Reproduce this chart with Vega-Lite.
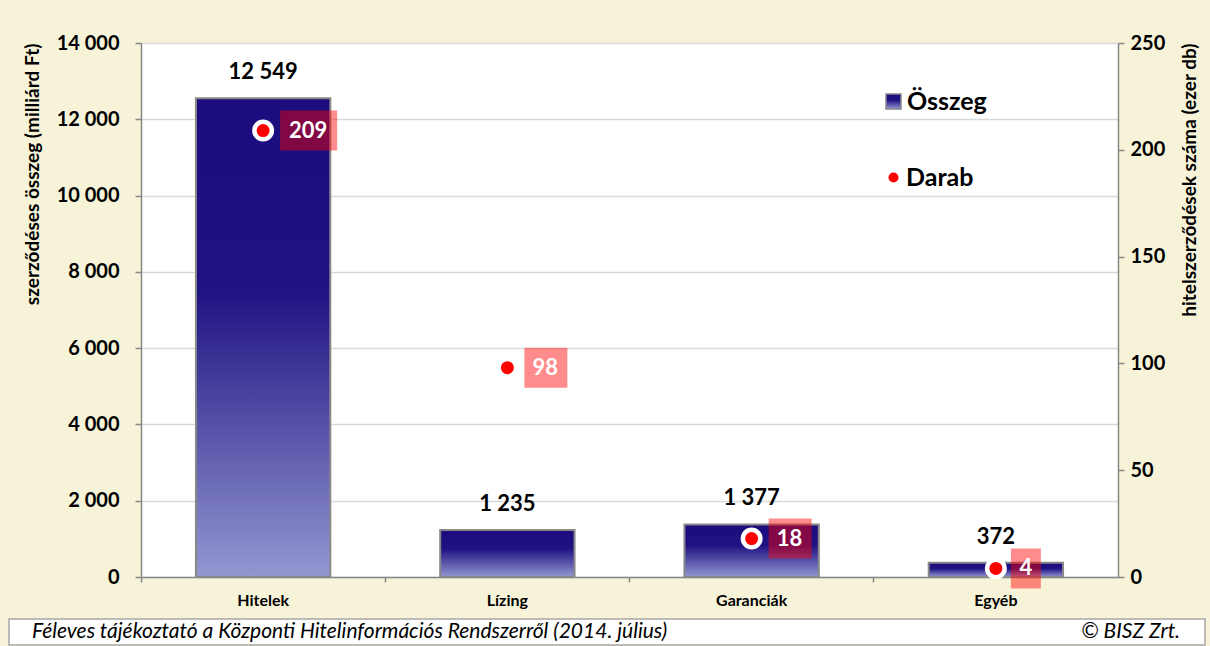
{
  "$schema": "https://vega.github.io/schema/vega-lite/v6.json",
  "background": "#F7F3D9",
  "padding": {"left": 8, "top": 33, "right": 5, "bottom": 0},
  "spacing": 10,
  "config": {
    "locale": {"number": {"decimal": ",", "thousands": " ", "grouping": [3], "currency": ["", " Ft"]}},
    "font": "Lato",
    "axis": {"labelFont": "Lato", "titleFont": "Lato", "labelColor": "#000000", "titleColor": "#000000", "domainColor": "#868686", "tickColor": "#868686", "domainWidth": 1.5, "tickWidth": 1.5},
    "legend": {"padding": 0, "labelFont": "Lato", "labelFontSize": 25, "labelFontWeight": "bold", "labelColor": "#000000", "title": null}
  },
  "datasets": {
    "main": [
      {"kat": "Hitelek", "osszeg": 12549, "darab": 209},
      {"kat": "Lízing", "osszeg": 1235, "darab": 98},
      {"kat": "Garanciák", "osszeg": 1377, "darab": 18},
      {"kat": "Egyéb", "osszeg": 372, "darab": 4}
    ],
    "footer": [
      {"side": "left", "text": "Féleves tájékoztató a Központi Hitelinformációs Rendszerről (2014. július)"},
      {"side": "right", "text": "© BISZ Zrt."}
    ]
  },
  "vconcat": [
    {
      "width": 977,
      "height": 534,
      "view": {"fill": "#FFFFFF", "stroke": null},
      "data": {"name": "main"},
      "encoding": {
        "x": {
          "field": "kat", "type": "nominal", "sort": null,
          "scale": {"paddingInner": 0, "paddingOuter": 0},
          "axis": {"title": null, "labelAngle": 0, "bandPosition": 0, "labelFontSize": 16, "labelFontWeight": "bold", "tickSize": 5, "labelPadding": 10, "grid": false}
        }
      },
      "layer": [
        {
          "encoding": {
            "y": {
              "field": "osszeg", "type": "quantitative",
              "scale": {"domain": [0, 14000], "nice": false},
              "axis": {
                "orient": "left", "values": [0, 2000, 4000, 6000, 8000, 10000, 12000, 14000], "format": ",d",
                "labelFontSize": 20, "labelFontWeight": "bold", "tickSize": 6, "labelPadding": 16,
                "grid": true, "gridColor": "#D9D9D9", "gridWidth": 1.5,
                "title": [" ", "szerződéses összeg (milliárd Ft)"], "titleLineHeight": 14,
                "titleFontSize": 19, "titleFontWeight": "bold", "titleAnchor": "end", "titlePadding": 14
              }
            }
          },
          "layer": [
            {
              "mark": {
                "type": "bar", "width": {"band": 0.55}, "strokeWidth": 2,
                "color": {"gradient": "linear", "x1": 0, "y1": 0, "x2": 0, "y2": 1, "stops": [
                  {"offset": 0, "color": "#1C0C7E"},
                  {"offset": 0.4, "color": "#1F1282"},
                  {"offset": 1, "color": "#9397D1"}
                ]}
              },
              "encoding": {
                "stroke": {
                  "datum": "Összeg", "type": "nominal",
                  "scale": {"domain": ["Összeg"], "range": ["#888888"]},
                  "legend": {
                    "orient": "none", "legendX": 740, "legendY": 46,
                    "symbolType": "square", "symbolSize": 225, "symbolFillColor": "#241690", "symbolStrokeColor": "#888888", "symbolStrokeWidth": 1.5,
                    "labelOffset": 1
                  }
                }
              }
            },
            {
              "mark": {"type": "text", "baseline": "bottom", "dy": -14, "fontSize": 22, "fontWeight": "bold", "color": "#000000"},
              "encoding": {"text": {"field": "osszeg", "type": "quantitative", "format": ",d"}}
            }
          ]
        },
        {
          "encoding": {
            "y": {
              "field": "darab", "type": "quantitative",
              "scale": {"domain": [0, 250], "nice": false},
              "axis": {
                "orient": "right", "values": [0, 50, 100, 150, 200, 250], "format": "d",
                "labelFontSize": 20, "labelFontWeight": "bold", "tickSize": 6, "labelPadding": 6, "grid": false,
                "title": "hitelszerződések száma (ezer db)", "titleFontSize": 19, "titleFontWeight": "bold", "titleAngle": -90, "titleAnchor": "end", "titleBaseline": "top", "titlePadding": 16
              }
            }
          },
          "layer": [
            {
              "mark": {"type": "point", "filled": true, "fill": "#FF0000", "fillOpacity": 0.45, "strokeWidth": 0, "size": 1600},
              "encoding": {
                "shape": {
                  "condition": [
                    {"test": "datum.darab >= 100", "value": "M0.85,-1H3.7V1H0.85Z"},
                    {"test": "datum.darab >= 10", "value": "M0.85,-1H3V1H0.85Z"}
                  ],
                  "value": "M0.75,-1H2.25V1H0.75Z"
                }
              }
            },
            {
              "mark": {"type": "point", "filled": true, "stroke": "#FFFFFF", "strokeWidth": 4.5, "size": 306, "opacity": 1},
              "encoding": {
                "color": {
                  "datum": "Darab", "type": "nominal",
                  "scale": {"domain": ["Darab"], "range": ["#FF0000"]},
                  "legend": {
                    "orient": "none", "legendX": 740, "legendY": 122,
                    "symbolType": "circle", "symbolSize": 100, "symbolStrokeWidth": 0,
                    "labelOffset": 0
                  }
                }
              }
            },
            {
              "mark": {"type": "text", "fontSize": 22, "fontWeight": "bold", "color": "#FFFFFF", "baseline": "middle", "align": "center",
                "dx": {"expr": "datum.darab >= 100 ? 45 : datum.darab >= 10 ? 38 : 30"}},
              "encoding": {"text": {"field": "darab", "type": "quantitative", "format": "d"}}
            }
          ]
        }
      ],
      "resolve": {"scale": {"y": "independent"}}
    },
    {
      "width": 923,
      "height": 26,
      "view": {"fill": null, "stroke": null},
      "data": {"name": "footer"},
      "layer": [
        {
          "transform": [{"filter": "datum.side === 'left'"}],
          "mark": {"type": "rect", "fill": "#FFFFFF", "stroke": "#A6A6A6", "strokeWidth": 1.5, "clip": false},
          "encoding": {
            "x": {"datum": 0, "type": "quantitative", "scale": {"domain": [0, 1], "range": [-132, 1064], "nice": false, "zero": false}, "axis": null},
            "x2": {"datum": 1},
            "y": {"datum": 0, "type": "quantitative", "scale": {"domain": [0, 1], "nice": false}, "axis": null},
            "y2": {"datum": 1}
          }
        },
        {
          "transform": [{"filter": "datum.side === 'left'"}],
          "mark": {"type": "text", "align": "left", "baseline": "middle", "dx": 23, "fontSize": 21, "fontStyle": "italic", "color": "#000000"},
          "encoding": {
            "x": {"datum": 0, "type": "quantitative"},
            "text": {"field": "text", "type": "nominal"}
          }
        },
        {
          "transform": [{"filter": "datum.side === 'right'"}],
          "mark": {"type": "text", "align": "right", "baseline": "middle", "dx": -25, "fontSize": 21, "fontStyle": "italic", "color": "#000000"},
          "encoding": {
            "x": {"datum": 1, "type": "quantitative"},
            "text": {"field": "text", "type": "nominal"}
          }
        }
      ]
    }
  ]
}
